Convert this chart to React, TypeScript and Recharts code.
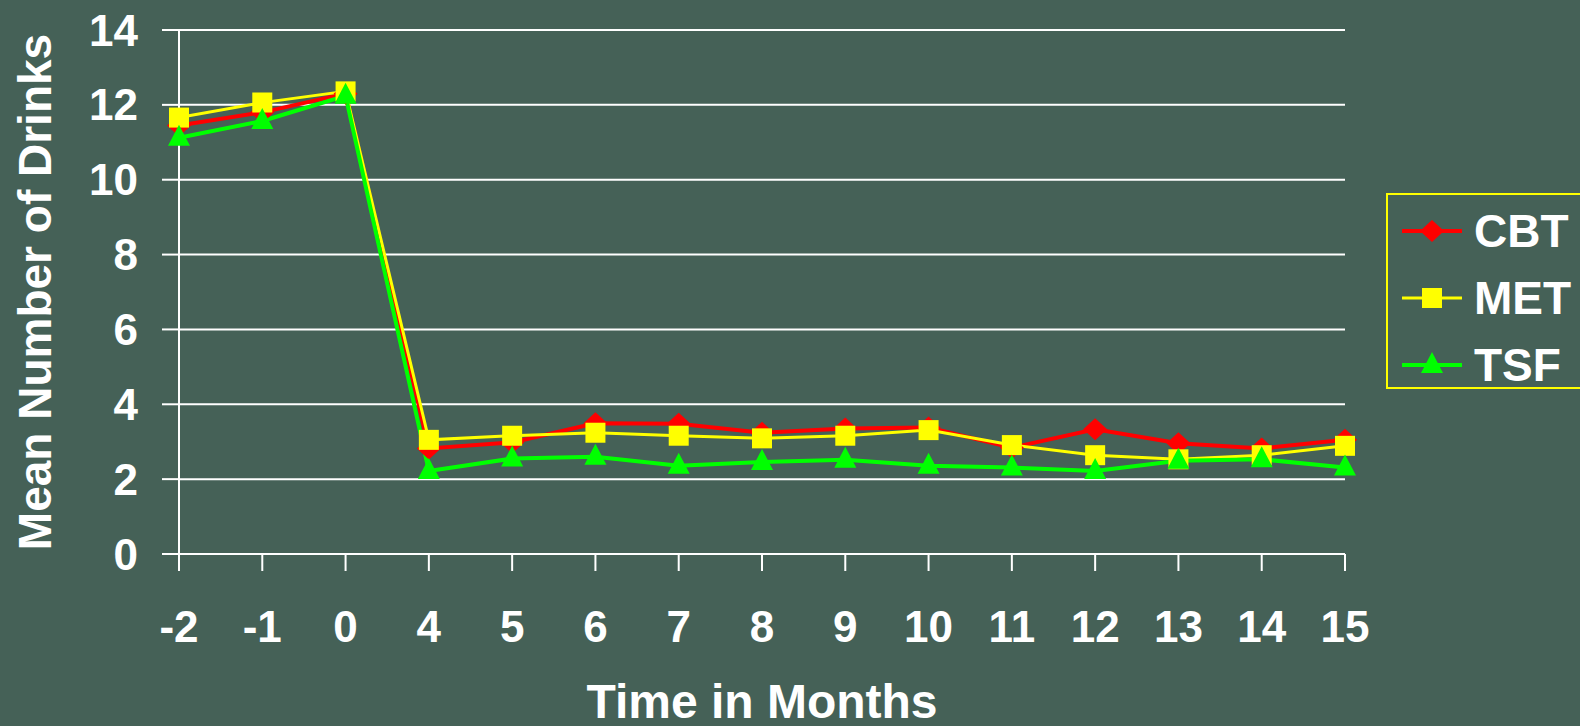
import React from 'react'
import { LineChart, Line, XAxis, YAxis, CartesianGrid } from 'recharts'

const months = ['-2', '-1', '0', '4', '5', '6', '7', '8', '9', '10', '11', '12', '13', '14', '15']
const cbt = [11.45, 11.8, 12.3, 2.82, 2.98, 3.49, 3.48, 3.24, 3.35, 3.38, 2.84, 3.33, 2.96, 2.82, 3.05]
const met = [11.66, 12.06, 12.36, 3.05, 3.16, 3.24, 3.16, 3.09, 3.16, 3.31, 2.91, 2.64, 2.53, 2.64, 2.89]
const tsf = [11.12, 11.57, 12.24, 2.22, 2.55, 2.6, 2.36, 2.46, 2.52, 2.36, 2.31, 2.22, 2.49, 2.53, 2.31]
const yTicks = [0, 2, 4, 6, 8, 10, 12, 14]

const data = months.map((m, i) => ({ month: m, CBT: cbt[i], MET: met[i], TSF: tsf[i] }))

const BG = '#456157'
const FONT = '"Liberation Sans", Arial, sans-serif'

type Shape = 'diamond' | 'square' | 'triangle'

const series: { key: string; color: string; shape: Shape; width: number }[] = [
    { key: 'CBT', color: '#ff0000', shape: 'diamond', width: 4 },
    { key: 'MET', color: '#ffff00', shape: 'square', width: 3 },
    { key: 'TSF', color: '#00ff00', shape: 'triangle', width: 4 },
]

function markerPath(shape: Shape, cx: number, cy: number) {
    if (shape === 'diamond') return `M${cx},${cy - 11} L${cx + 12},${cy} L${cx},${cy + 11} L${cx - 12},${cy} Z`
    if (shape === 'square') return `M${cx - 10},${cy - 10} h20 v20 h-20 Z`
    return `M${cx},${cy - 13} L${cx + 11},${cy + 8} L${cx - 11},${cy + 8} Z`
}

function makeDot(shape: Shape, color: string) {
    return (props: any) => {
        const { cx, cy, index } = props
        if (cx == null || cy == null) return <g key={`d-${index}`} />
        return <path key={`d-${shape}-${index}`} d={markerPath(shape, cx, cy)} fill={color} />
    }
}

function ChartLegend() {
    return (
        <div
            style={{
                position: 'absolute',
                left: 1386,
                top: 193,
                width: 250,
                height: 196,
                border: '2px solid #ffff00',
                boxSizing: 'border-box',
            }}
        >
            <svg width={250} height={196} style={{ position: 'absolute', left: -2, top: -2 }}>
                {series.map((s, i) => {
                    const y = 38 + i * 67
                    return (
                        <g key={s.key}>
                            <line x1={16} x2={76} y1={y} y2={y} stroke={s.color} strokeWidth={s.width} />
                            <path d={markerPath(s.shape, 46, y)} fill={s.color} />
                            <text
                                x={88}
                                y={y + 16}
                                fill="#fff"
                                fontFamily={FONT}
                                fontWeight="bold"
                                fontSize={46}
                            >
                                {s.key}
                            </text>
                        </g>
                    )
                })}
            </svg>
        </div>
    )
}

export default function App() {
    return (
        <div style={{ position: 'absolute', left: 0, top: 0, width: 1580, height: 726, background: BG, overflow: 'hidden' }}>
            <LineChart width={1580} height={726} data={data} margin={{ top: 30, right: 235, left: 0, bottom: 0 }}>
                <CartesianGrid vertical={false} stroke="#ffffff" strokeWidth={2} />
                <XAxis
                    dataKey="month"
                    height={172}
                    padding={{ left: 0, right: 0 }}
                    axisLine={{ stroke: '#fff', strokeWidth: 2 }}
                    tickLine={{ stroke: '#fff', strokeWidth: 2 }}
                    tickSize={17}
                    tickMargin={40}
                    interval={0}
                    tick={{ fill: '#fff', fontSize: 44, fontWeight: 'bold', fontFamily: FONT }}
                    label={{
                        value: 'Time in Months',
                        position: 'insideBottom',
                        offset: 8,
                        fill: '#fff',
                        fontSize: 48,
                        fontWeight: 'bold',
                        fontFamily: FONT,
                    }}
                />
                <YAxis
                    width={179}
                    domain={[0, 14]}
                    ticks={yTicks}
                    interval={0}
                    axisLine={{ stroke: '#fff', strokeWidth: 2 }}
                    tickLine={{ stroke: '#fff', strokeWidth: 2 }}
                    tickSize={17}
                    tickMargin={24}
                    tick={{ fill: '#fff', fontSize: 44, fontWeight: 'bold', fontFamily: FONT }}
                    label={{
                        value: 'Mean Number of Drinks',
                        angle: -90,
                        position: 'insideLeft',
                        offset: 35,
                        fill: '#fff',
                        fontSize: 46,
                        fontWeight: 'bold',
                        fontFamily: FONT,
                        style: { textAnchor: 'middle' },
                    }}
                />
                {series.map((s) => (
                    <Line
                        key={s.key}
                        dataKey={s.key}
                        stroke={s.color}
                        strokeWidth={s.width}
                        dot={makeDot(s.shape, s.color)}
                        activeDot={false}
                        isAnimationActive={false}
                    />
                ))}
            </LineChart>
            <ChartLegend />
        </div>
    )
}
